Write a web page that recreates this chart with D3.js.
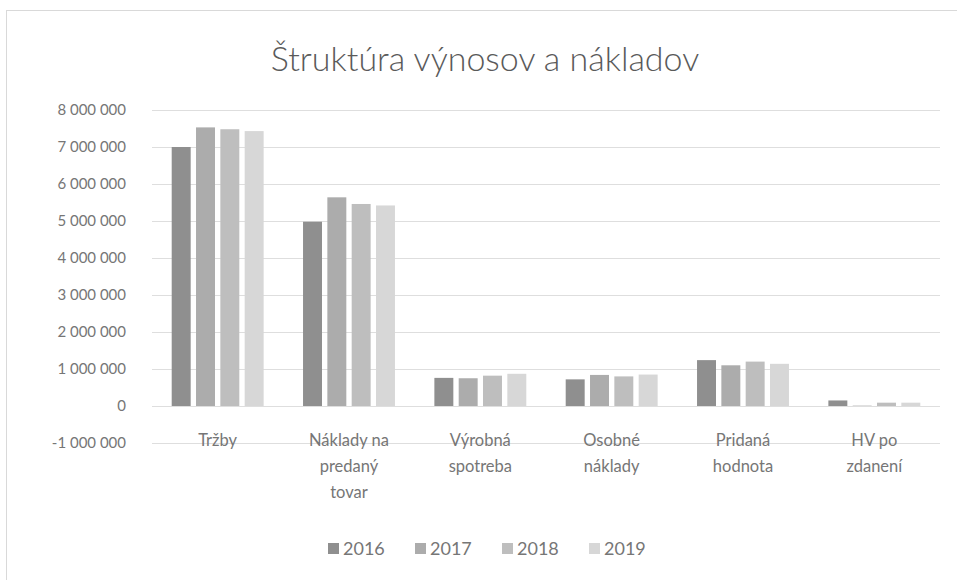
<!DOCTYPE html>
<html><head><meta charset="utf-8">
<script src="https://cdn.jsdelivr.net/npm/d3@7"></script>
<style>body{margin:0;background:#fff;}svg{display:block;font-family:Lato,"Open Sans",sans-serif;}</style>
</head><body>
<svg id="c" width="957" height="580"></svg>
<script>
const categories = [["Tržby"],["Náklady na","predaný","tovar"],["Výrobná","spotreba"],["Osobné","náklady"],["Pridaná","hodnota"],["HV po","zdanení"]];
const years = ["2016","2017","2018","2019"];
const v2016 = [7000000, 4980000, 760000, 720000, 1240000, 150000];
const v2017 = [7530000, 5640000, 750000, 840000, 1100000, 10000];
const v2018 = [7480000, 5460000, 820000, 800000, 1200000, 90000];
const v2019 = [7430000, 5420000, 870000, 850000, 1140000, 90000];
const series = [v2016, v2017, v2018, v2019];
const yTicks = [-1000000,0,1000000,2000000,3000000,4000000,5000000,6000000,7000000,8000000];
const colors = ["#8f8f8f","#acacac","#bebebe","#d7d7d7"];

const svg = d3.select("#c");
svg.append("rect").attr("x",6.5).attr("y",10.5).attr("width",960).attr("height",580).attr("fill","none").attr("stroke","#d9d9d9");

const x0 = d3.scaleBand().domain(d3.range(categories.length)).range([152,940]).paddingInner(0.3).paddingOuter(0.15);
const x1 = d3.scaleBand().domain(d3.range(years.length)).range([0,x0.bandwidth()]).paddingInner(0.22);
const y = d3.scaleLinear().domain([-1000000,8000000]).range([443,110]);

const fmt = v => d3.format(",")(Math.abs(v)).replace(/,/g," ").replace(/^/, v<0?"-":"");
const yAxis = d3.axisLeft(y).tickValues(yTicks).tickSize(0).tickFormat(fmt).tickPadding(0);
const ga = svg.append("g").attr("transform","translate(126,0)").call(yAxis);
ga.select(".domain").remove();
ga.selectAll("text").attr("fill","#767676").attr("font-size",15).attr("font-family","Lato,sans-serif");

svg.append("g").selectAll("line").data(yTicks).join("line")
  .attr("x1",152).attr("x2",940).attr("y1",d=>y(d)+0.5).attr("y2",d=>y(d)+0.5)
  .attr("stroke","#dedede").attr("stroke-width",1);

const g = svg.append("g");
series.forEach((s,si)=>{
  g.selectAll(null).data(s).join("rect")
    .attr("x",(d,i)=>x0(i)+x1(si))
    .attr("width",x1.bandwidth())
    .attr("y",d=>y(Math.max(0,d)))
    .attr("height",d=>Math.abs(y(d)-y(0)))
    .attr("fill",colors[si]);
});

const cl = svg.append("g");
categories.forEach((lines,i)=>{
  const t = cl.append("text").attr("x",x0(i)+x0.bandwidth()/2).attr("y",446)
    .attr("text-anchor","middle").attr("font-size",16.5).attr("fill","#767676");
  lines.forEach((l,j)=>t.append("tspan").attr("x",x0(i)+x0.bandwidth()/2).attr("dy",j?26:0).text(l));
});

svg.append("text").attr("x",485).attr("y",71).attr("text-anchor","middle")
  .attr("font-size",34).attr("font-weight",300).attr("fill","#5a5a5a").text("Štruktúra výnosov a nákladov");

const lg = svg.append("g");
const lx = [328, 415, 502, 589];
years.forEach((yr,i)=>{
  lg.append("rect").attr("x",lx[i]).attr("y",543).attr("width",11).attr("height",11).attr("fill",colors[i]);
  lg.append("text").attr("x",lx[i]+15).attr("y",555).attr("font-size",18).attr("fill","#767676").text(yr);
});
</script>
</body></html>
